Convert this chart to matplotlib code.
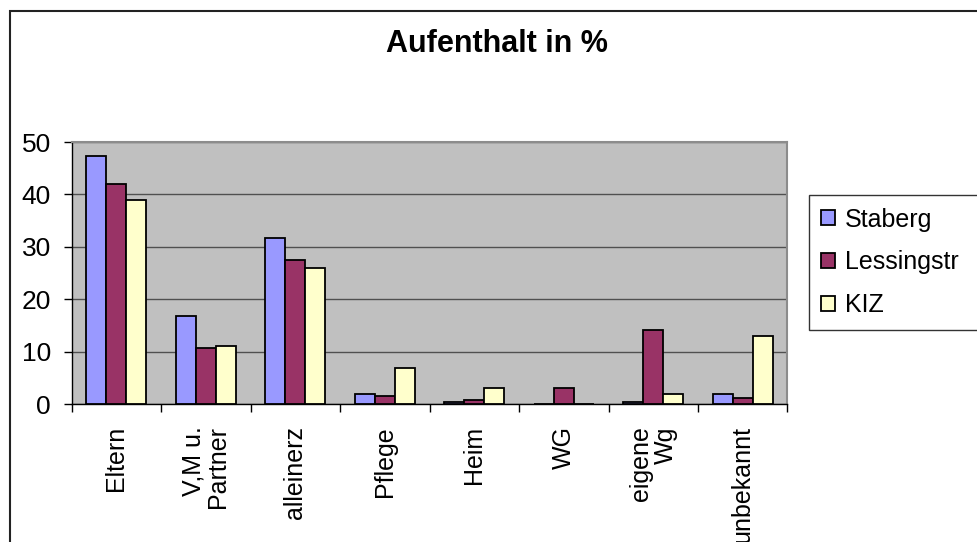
import numpy as np
import matplotlib
matplotlib.use('Agg')
import matplotlib.pyplot as plt
from matplotlib.patches import Rectangle

plt.rcParams['font.family'] = ['Liberation Sans', 'DejaVu Sans']

categories = ['Eltern', 'V,M u.\nPartner', 'alleinerz', 'Pflege', 'Heim', 'WG',
              'eigene\nWg', 'unbekannt']
staberg = [47.3, 16.7, 31.6, 1.9, 0.4, 0.0, 0.4, 1.9]
lessingstr = [41.9, 10.6, 27.4, 1.6, 0.7, 3.1, 14.2, 1.1]
kiz = [38.9, 11.1, 25.9, 6.9, 3.1, 0.0, 2.0, 12.9]
series_names = ['Staberg', 'Lessingstr', 'KIZ']
colors = ['#9999FF', '#993366', '#FFFFCC']
yticks = [0, 10, 20, 30, 40, 50]

W, H = 978, 542
fig = plt.figure(figsize=(W / 100, H / 100), dpi=100)

# plot area in pixels: x 71.6..787.5, y 142..404
ax = fig.add_axes([71.6 / W, 1 - 404 / H, (787.5 - 71.6) / W, 262 / H])
ax.set_facecolor('#C0C0C0')

x = np.arange(len(categories))
bw = 0.223
for i, (vals, name, c) in enumerate(zip([staberg, lessingstr, kiz], series_names, colors)):
    ax.bar(x + (i - 1) * bw, vals, width=bw, color=c, edgecolor='black',
           linewidth=1.3, label=name, zorder=3)

ax.set_xlim(-0.5, len(categories) - 0.5)
ax.set_ylim(0, 50)
ax.set_yticks(yticks)
ax.yaxis.grid(True, color='#505050', linewidth=1.0, zorder=1)
ax.set_axisbelow(True)
ax.tick_params(axis='y', labelsize=19, length=6, width=1, direction='out', pad=9)

ax.set_xticks(x)
ax.set_xticklabels(categories, rotation=90, fontsize=18, va='top', ha='center',
                   multialignment='right', linespacing=1.05)
ax.set_xticks(np.arange(len(categories) + 1) - 0.5, minor=True)
ax.tick_params(axis='x', which='major', length=0, pad=16)
ax.tick_params(axis='x', which='minor', length=6, width=1, direction='out')

for s in ['left', 'bottom']:
    ax.spines[s].set_color('black')
    ax.spines[s].set_linewidth(1.0)
for s in ['top', 'right']:
    ax.spines[s].set_color('#8C8C8C')
    ax.spines[s].set_linewidth(1.5)

fig.text(497 / W, 1 - 52 / H, 'Aufenthalt in %', fontsize=22, fontweight='bold',
         ha='center', va='baseline')

leg = fig.legend(loc='upper left', bbox_to_anchor=(809 / W, 1 - 328 / H, 190 / W, 133 / H),
                 mode='expand', fontsize=18, frameon=True, fancybox=False,
                 edgecolor='black', handlelength=0.55, handleheight=0.55,
                 handletextpad=0.4, labelspacing=0.75, borderpad=0.5,
                 borderaxespad=0)
leg.get_frame().set_linewidth(1.0)

# chart area border (cut at right and bottom)
fig.patches.append(Rectangle((10 / W, -0.1), 1.2, 1.1 - 10.5 / H, transform=fig.transFigure,
                             fill=False, edgecolor='#222222', linewidth=1.5))

fig.savefig('out.png', dpi=100)
